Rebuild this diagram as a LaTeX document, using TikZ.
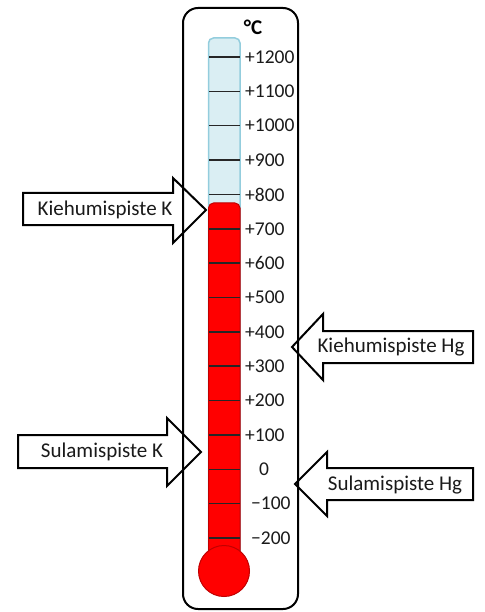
\documentclass[tikz,border=0pt]{standalone}
\usepackage{fontspec}
\setmainfont{Carlito}
\definecolor{tubefill}{HTML}{DAEEF3}
\definecolor{tubeedge}{HTML}{93CDDD}
\definecolor{mercury}{HTML}{FF0000}
\definecolor{mercuryedge}{HTML}{C00000}
\definecolor{ink}{HTML}{1A1A1A}
\tikzset{
  blockarrow/.style={draw=black, fill=white, line width=2pt, line join=miter},
  scalelabel/.style={font=\fontsize{19.5}{22}\selectfont, text=ink, inner sep=0pt},
  arrowlabel/.style={font=\fontsize{21}{24}\selectfont, text=ink, inner sep=0pt},
  tick/.style={draw=black!85, line width=1.5pt},
}
\begin{document}
\begin{tikzpicture}[x=1pt, y=-1pt]
\useasboundingbox (0,0) rectangle (484,612);

% block arrows pointing at the scale
\draw[blockarrow] (23,193) -- (173,193) -- (173,178) -- (206,210) -- (173,243) -- (173,225) -- (23,225) -- cycle;
\draw[blockarrow] (473,331) -- (323,331) -- (323,314) -- (292,347) -- (323,380) -- (323,363) -- (473,363) -- cycle;
\draw[blockarrow] (18,435) -- (167,435) -- (167,418) -- (201,452) -- (167,486) -- (167,468) -- (18,468) -- cycle;
\draw[blockarrow] (473,468) -- (327,468) -- (327,452) -- (295,484) -- (327,516) -- (327,500) -- (473,500) -- cycle;

% thermometer case
\draw[line width=2pt, rounded corners=15pt] (183,8) rectangle (298,609);

% empty tube
\draw[fill=tubefill, draw=tubeedge, line width=1.5pt]
  (208.5,571) -- (208.5,43) arc[start angle=180, end angle=90, x radius=5, y radius=-5]
  -- (235,38) arc[start angle=90, end angle=0, x radius=5, y radius=-5] -- (240,571);

% mercury column and bulb
\draw[fill=mercury, draw=mercuryedge, line width=1pt]
  (208.5,571) -- (208.5,208) arc[start angle=180, end angle=90, x radius=5, y radius=-5]
  -- (235,203) arc[start angle=90, end angle=0, x radius=5, y radius=-5] -- (240,571);

% scale ticks and labels
\foreach \k/\lab in {0/+1200,1/+1100,2/+1000,3/+900,4/+800,5/+700,6/+600,7/+500,8/+400,9/+300,10/+200,11/+100} {
  \pgfmathsetmacro{\yy}{57+\k*34.36}
  \draw[tick] (209,\yy) -- (239.5,\yy);
  \node[scalelabel, anchor=west] (lab\k) at (245,\yy) {\lab};
}
\foreach \k in {12,13,14} {
  \pgfmathsetmacro{\yy}{57+\k*34.36}
  \draw[tick] (209,\yy) -- (239.5,\yy);
}
\node[scalelabel] (lab12) at (264,{57+12*34.36}) {0};
\node[scalelabel, anchor=west] (lab13) at (251,{57+13*34.36}) {−100};
\node[scalelabel, anchor=west] (lab14) at (251,{57+14*34.36}) {−200};

\draw[fill=mercury, draw=mercuryedge, line width=1pt] (224,571) circle[radius=25.5pt];

\node[font=\bfseries\fontsize{21}{24}\selectfont, inner sep=0pt] (unit) at (253,27) {°C};

% arrow captions
\node[arrowlabel] (kiehK) at (105,210) {Kiehumispiste K};
\node[arrowlabel] (kiehHg) at (391,347) {Kiehumispiste Hg};
\node[arrowlabel] (sulK) at (102,452) {Sulamispiste K};
\node[arrowlabel] (sulHg) at (395,485) {Sulamispiste Hg};
\end{tikzpicture}
\end{document}
